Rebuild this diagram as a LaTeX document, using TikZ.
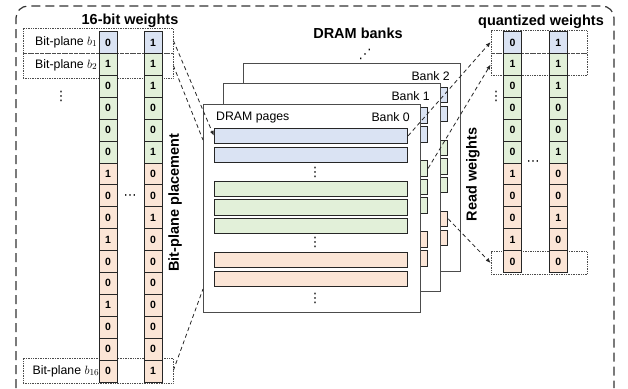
\documentclass[tikz,border=0pt]{standalone}
\usepackage{fontspec}
\setmainfont{Liberation Sans}
\newfontfamily\symfont{DejaVu Sans}
\usepackage{xcolor}
\usepackage{tikz}
\usetikzlibrary{arrows.meta}

\definecolor{blu}{HTML}{DAE3F3}
\definecolor{grn}{HTML}{E2F0D9}
\definecolor{org}{HTML}{FBE5D6}

\tikzset{
    cellbox/.style={draw=black!85, line width=0.8pt, minimum width=18, minimum height=21.9, inner sep=0pt, font=\bfseries\fontsize{10.5}{11}\selectfont},
    pagebox/.style={draw=black!85, line width=0.9pt, minimum width=193.4, minimum height=15.6, inner sep=0pt},
    bankbox/.style={draw=black!70, line width=0.9pt, fill=white, minimum width=217, minimum height=208, inner sep=0pt},
    dotbox/.style={draw=black!70, densely dotted, line width=0.7pt, inner sep=0pt},
    wtitle/.style={font=\bfseries\fontsize{14.5}{16}\selectfont, inner sep=0pt},
    lbl/.style={font=\fontsize{12.3}{14}\selectfont, inner sep=0pt},
    dotsym/.style={font=\symfont\fontsize{13}{13}\selectfont, inner sep=0pt},
    linkline/.style={dash pattern=on 4pt off 3pt, line width=0.8pt, black!85},
    outerframe/.style={dash pattern=on 9pt off 5pt, line width=1.2pt, black!80, rounded corners=12pt},
}

\begin{document}
\begin{tikzpicture}[x=1pt, y=-1pt, >={Latex[length=5pt,width=4pt]}]
    \useasboundingbox (0,0) rectangle (628,388);
    \draw[outerframe] (16,388) -- (16,6) -- (614,6) -- (614,388);

    \node[wtitle] (tleft) at (130,21) {16-bit weights};
    \node[wtitle] (tbanks) at (358,33) {DRAM banks};
    \node[wtitle] (tright) at (541,21.5) {quantized weights};
    \node[wtitle, rotate=90] (tplace) at (175,203) {Bit-plane placement};
    \node[wtitle, rotate=90] (tread) at (473,174.5) {Read weights};

    \node[dotbox, minimum width=150, minimum height=25] (lbox1) at (98,40.5) {};
    \node[dotbox, minimum width=150, minimum height=25] (lbox2) at (98,65.5) {};
    \node[dotbox, minimum width=150, minimum height=25] (lbox16) at (98,370.5) {};
    \node[lbl, anchor=east] (lt1) at (97.5,42) {Bit-plane $b_1$};
    \node[lbl, anchor=east] (lt2) at (97.5,65) {Bit-plane $b_2$};
    \node[lbl, anchor=east] (lt16) at (99.5,371) {Bit-plane $b_{16}$};

    \foreach \a/\b/\c [count=\i] in {0/1/blu, 1/1/grn, 0/1/grn, 0/0/grn, 0/0/grn, 0/1/grn, 1/0/org, 0/0/org, 0/1/org, 1/0/org, 0/0/org, 0/0/org, 1/0/org, 0/0/org, 0/0/org, 0/1/org} {
        \node[cellbox, fill=\c] (la\i) at (108,{31.5+(\i-0.5)*21.9}) {\a};
        \node[cellbox, fill=\c] (lb\i) at (153,{31.5+(\i-0.5)*21.9}) {\b};
    }
    \node[dotsym] (ldots) at (61,96) {⋮};
    \node[dotsym] (lcdots) at (130,197) {⋯};

    \node[dotbox, minimum width=96, minimum height=22.5] (rbox1) at (539,42) {};
    \node[dotbox, minimum width=96, minimum height=22.5] (rbox2) at (539,64.5) {};
    \node[dotbox, minimum width=96, minimum height=22.5] (rbox11) at (539,263) {};

    \foreach \a/\b/\c [count=\i] in {0/1/blu, 1/1/grn, 0/1/grn, 0/0/grn, 0/0/grn, 0/1/grn, 1/0/org, 0/0/org, 0/1/org, 1/0/org, 0/0/org} {
        \node[cellbox, fill=\c] (ra\i) at (512.5,{31.5+(\i-0.5)*21.9}) {\a};
        \node[cellbox, fill=\c] (rb\i) at (558.3,{31.5+(\i-0.5)*21.9}) {\b};
    }
    \node[dotsym] (rdots) at (496,96) {⋮};
    \node[dotsym] (rcdots) at (533,163) {⋯};

    \node[dotsym] (bdots) at (365,54) {⋰};

    \foreach \k in {2,1,0} {
        \begin{scope}[shift={(20*\k,-20.5*\k)}]
            \node[bankbox] (bank\k) at (311.5,208) {};
            \node[lbl, anchor=east] (bl\k) at (410,117) {Bank \k};
            \foreach \y/\c [count=\j] in {135.8/blu, 154.8/blu, 188.8/grn, 207.3/grn, 225.8/grn, 259.8/org, 278.8/org}
                \node[pagebox, fill=\c] (p\k-\j) at (311,\y) {};
        \end{scope}
    }
    \node[lbl, anchor=west] (pages) at (216,118) {DRAM pages};
    \node[dotsym] (vd1) at (315,172.5) {⋮};
    \node[dotsym] (vd2) at (315,242) {⋮};
    \node[dotsym] (vd3) at (315,298) {⋮};

    \coordinate (hid1) at (203,140);
    \coordinate (hid2) at (203,289);
    \draw[linkline, ->] (lbox1.east) -- (p0-1.west);
    \draw[linkline] (lbox2.east) -- (hid1);
    \draw[linkline] (lbox16.east) -- (hid2);

    \draw[linkline, ->] (p0-1.east) -- (rbox1.west);
    \draw[linkline, ->] (p1-3.east) -- (rbox2.west);
    \draw[linkline, ->] (p2-6.east) -- (rbox11.west);
\end{tikzpicture}
\end{document}
